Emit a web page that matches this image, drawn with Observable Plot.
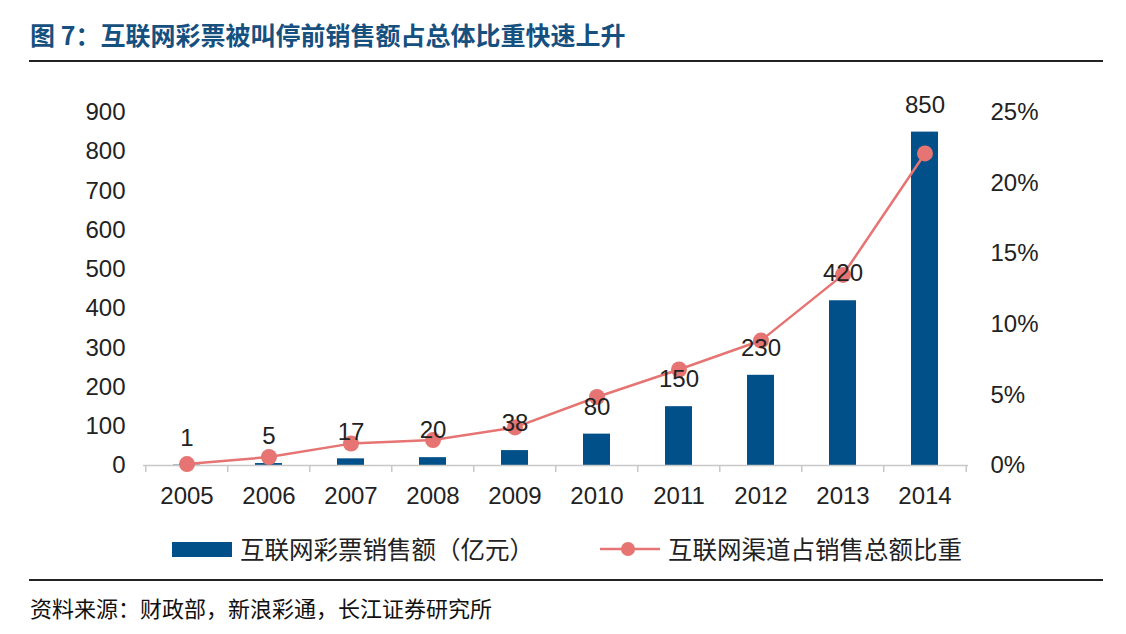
<!DOCTYPE html>
<html><head><meta charset="utf-8">
<script src="https://cdn.jsdelivr.net/npm/d3@7"></script>
<script src="https://cdn.jsdelivr.net/npm/@observablehq/plot@0.6"></script>
<style>
body{margin:0;background:#fff;}
#wrap{position:relative;width:1126px;height:634px;overflow:hidden;font-family:"Liberation Sans","Noto Sans CJK SC",sans-serif;}
#title{position:absolute;left:30px;top:20px;font:bold 25px/28px "Noto Sans CJK SC",sans-serif;color:#16507f;white-space:nowrap;}
.rule{position:absolute;left:29px;width:1074px;height:2px;background:#222;}
#chart{position:absolute;left:0;top:80px;}
#legend{position:absolute;top:533px;left:0;width:1126px;height:32px;font:24.5px/32px "Noto Sans CJK SC",sans-serif;color:#222;}
#legend .item{position:absolute;top:0;display:flex;align-items:center;height:32px;white-space:nowrap;}
#source{position:absolute;left:30px;top:594px;font:22px/26px "Noto Sans CJK SC",sans-serif;color:#111;white-space:nowrap;}
</style></head>
<body>
<div id="wrap">
  <div id="title">图 7：互联网彩票被叫停前销售额占总体比重快速上升</div>
  <div class="rule" style="top:60px"></div>
  <div id="chart"></div>
  <div id="legend"></div>
  <div class="rule" style="top:579px"></div>
  <div id="source">资料来源：财政部，新浪彩通，长江证券研究所</div>
</div>
<script>
const years = ["2005","2006","2007","2008","2009","2010","2011","2012","2013","2014"];
const sales = [1, 5, 17, 20, 38, 80, 150, 230, 420, 850];
const share = [0.1, 0.6, 1.55, 1.8, 2.7, 4.85, 6.8, 8.85, 13.5, 22.1];
const leftTicks = [0,100,200,300,400,500,600,700,800,900];
const rightTicks = [0,5,10,15,20,25];
const barName = "互联网彩票销售额（亿元）";
const lineName = "互联网渠道占销售总额比重";

const barColor = "#02508a";
const lineColor = "#e57472";
const leftMax = 900, rightMax = 25;
const k = leftMax / rightMax;

const data = years.map((y, i) => ({year: y, sales: sales[i], share: share[i]}));

const W = 1126, H = 440, mL = 143, mR = 158, mT = 32, mB = 55;
const step = (W - mL - mR) / years.length;
const tickLenUnits = 7 * leftMax / (H - mT - mB);

const chart = Plot.plot({
  width: W, height: H,
  marginLeft: mL, marginRight: mR, marginTop: mT, marginBottom: mB,
  style: {fontFamily: "'Liberation Sans', Arial, sans-serif", fontSize: "24px", color: "#222", background: "transparent"},
  x: {domain: years, paddingInner: 0.67, paddingOuter: 0.335, axis: null},
  y: {domain: [0, leftMax], axis: null},
  marks: [
    Plot.barY(data, {x: "year", y: "sales", fill: barColor}),
    Plot.ruleY([0], {stroke: "#c8c8c8", strokeWidth: 1.5}),
    Plot.ruleX(years, {x: d => d, dx: -step / 2, y1: 0, y2: -tickLenUnits, stroke: "#c8c8c8", strokeWidth: 1.5}),
    Plot.ruleX(years.slice(-1), {x: d => d, dx: step / 2, y1: 0, y2: -tickLenUnits, stroke: "#c8c8c8", strokeWidth: 1.5}),
    Plot.axisX({tickSize: 0, tickPadding: 21, fontSize: 24, fill: "#222", label: null}),
    Plot.axisY({anchor: "left", ticks: leftTicks, tickSize: 0, tickPadding: 18, fontSize: 24, fill: "#222", label: null}),
    Plot.axisY({anchor: "right", ticks: rightTicks.map(t => t * k), tickFormat: d => Math.round(d / k) + "%", tickSize: 0, tickPadding: 22, fontSize: 24, fill: "#222", label: null}),
    Plot.line(data, {x: "year", y: d => d.share * k, stroke: lineColor, strokeWidth: 2.5}),
    Plot.dot(data, {x: "year", y: d => d.share * k, r: 8, fill: lineColor, stroke: "none"}),
    Plot.text(data, {x: "year", y: "sales", text: d => String(d.sales), dy: -27, fontSize: 24, fill: "#222"})
  ]
});
document.getElementById("chart").appendChild(chart);

// legend
const lg = document.getElementById("legend");
lg.innerHTML = `
  <div class="item" style="left:172px">
    <span style="display:inline-block;width:60px;height:15px;background:${barColor};margin-right:8px"></span>${barName}
  </div>
  <div class="item" style="left:600px">
    <svg width="62" height="20" style="margin-right:6px"><line x1="0" y1="10" x2="60" y2="10" stroke="${lineColor}" stroke-width="2.5"/><circle cx="28" cy="10" r="7" fill="${lineColor}"/></svg>${lineName}
  </div>`;
</script>
</body></html>
